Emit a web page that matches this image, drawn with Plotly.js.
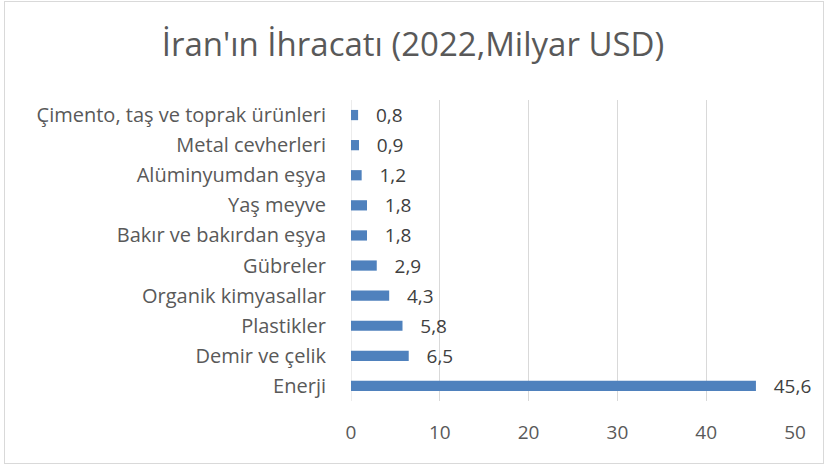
<!DOCTYPE html>
<html>
<head>
<meta charset="utf-8">
<script src="https://cdn.plot.ly/plotly-3.0.1.min.js"></script>
<style>
html,body{margin:0;padding:0;background:#fff;}
#frame{position:absolute;left:4px;top:1px;width:818px;height:461px;border:1px solid #d9d9d9;}
#chart{position:absolute;left:0;top:0;width:826px;height:465px;}
</style>
</head>
<body>
<div id="frame"></div>
<div id="chart"></div>
<script>
const categories = ["Enerji","Demir ve çelik","Plastikler","Organik kimyasallar","Gübreler","Bakır ve bakırdan eşya","Yaş meyve","Alüminyumdan eşya","Metal cevherleri","Çimento, taş ve toprak ürünleri"];
const values = [45.6,6.5,5.8,4.3,2.9,1.8,1.8,1.2,0.9,0.8];
const labels = values.map(v => v.toFixed(1).replace('.', ','));
const xTicks = [0,10,20,30,40,50];

const font = "Open Sans, Liberation Sans, sans-serif";
Plotly.newPlot('chart', [{
  type: 'bar',
  orientation: 'h',
  x: values,
  y: categories,
  text: labels,
  texttemplate: '   %{text}',
  textposition: 'outside',
  constraintext: 'none',
  cliponaxis: false,
  textfont: {family: font, size: 19, color: '#404040'},
  marker: {color: '#4f81bd'},
  width: 0.34,
  hoverinfo: 'none'
}], {
  width: 826, height: 465,
  paper_bgcolor: 'rgba(0,0,0,0)',
  plot_bgcolor: 'rgba(0,0,0,0)',
  margin: {l: 351, r: 31, t: 100, b: 64},
  title: {text: "İran'ın İhracatı (2022,Milyar USD)", x: 0.5, xanchor: 'center', y: 0.905, yanchor: 'middle',
          font: {family: font, size: 33, color: '#595959'}},
  xaxis: {range: [0, 50], tickvals: xTicks, ticktext: xTicks.map(String),
          showgrid: true, gridcolor: '#d9d9d9', gridwidth: 1, zeroline: false,
          showline: false, ticks: 'outside', ticklen: 14, tickcolor: 'rgba(0,0,0,0)',
          tickfont: {family: font, size: 19, color: '#595959'}, fixedrange: true},
  yaxis: {type: 'category', categoryorder: 'array', categoryarray: categories,
          showgrid: false, zeroline: false, showline: false,
          ticks: 'outside', ticklen: 20, tickcolor: 'rgba(0,0,0,0)',
          tickfont: {family: font, size: 20, color: '#595959'}, fixedrange: true},
  shapes: [{type: 'line', xref: 'x', yref: 'paper', x0: 0, x1: 0, y0: 0, y1: 1,
            line: {color: '#d9d9d9', width: 1}, layer: 'below'}],
  showlegend: false,
  bargap: 0.66
}, {displayModeBar: false, staticPlot: true});
</script>
</body>
</html>
